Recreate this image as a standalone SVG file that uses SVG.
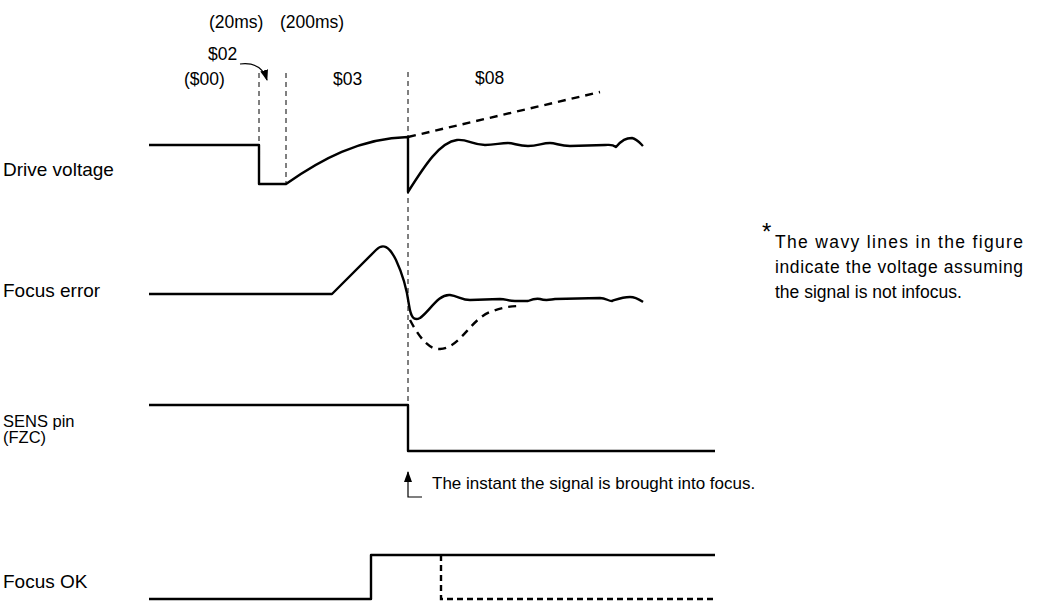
<svg xmlns="http://www.w3.org/2000/svg" width="1037" height="601" viewBox="0 0 1037 601">
<style>
  text { font-family: "Liberation Sans", Arial, sans-serif; font-size: 17.5px; fill: #000; }
  .lbl { font-size: 19px; }
  .sig { fill: none; stroke: #000; stroke-width: 2.4; stroke-linejoin: round; }
  .dsig { fill: none; stroke: #000; stroke-width: 2.4; stroke-dasharray: 8 6; }
  .grid { fill: none; stroke: #000; stroke-width: 1; stroke-dasharray: 5 4; }
  .thin { fill: none; stroke: #000; stroke-width: 1.2; }
</style>
<defs>
  <marker id="ah" markerWidth="11" markerHeight="10" refX="10" refY="5" orient="auto" markerUnits="userSpaceOnUse">
    <path d="M0,1 L11,5 L0,9 Z" fill="#000"/>
  </marker>
</defs>
<rect width="1037" height="601" fill="#fff"/>

<g id="labels">
  <text class="lbl" x="3" y="176">Drive voltage</text>
  <text class="lbl" x="3" y="297">Focus error</text>
  <text x="3" y="427" style="font-size:16.5px">SENS pin</text>
  <text x="3" y="443" style="font-size:16.5px">(FZC)</text>
  <text class="lbl" x="3" y="588">Focus OK</text>
</g>

<g id="phase-labels">
  <text x="209" y="28">(20ms)</text>
  <text x="280" y="28">(200ms)</text>
  <text x="208" y="60">$02</text>
  <text x="184" y="85">($00)</text>
  <text x="333" y="85">$03</text>
  <text x="475" y="84">$08</text>
</g>

<g id="note">
  <text x="762" y="240" style="font-size:24px">*</text>
  <text x="775" y="248" textLength="248" lengthAdjust="spacing">The wavy lines in the figure</text>
  <text x="775" y="273" textLength="248" lengthAdjust="spacing">indicate the voltage assuming</text>
  <text x="775" y="298">the signal is not infocus.</text>
  <text x="432" y="489" style="font-size:17px">The instant the signal is brought into focus.</text>
</g>

<g id="grid-lines">
  <line class="grid" x1="259" y1="73" x2="259" y2="145"/>
  <line class="grid" x1="286" y1="73" x2="286" y2="184"/>
  <line class="grid" x1="408" y1="72" x2="408" y2="405"/>
</g>

<g id="drive-voltage">
  <path class="sig" d="M149,145 H259 V184 H286 C320,160 360,138 408,137 V192 C425,165 440,142 457,140 C468,139 472,145 485,145 C495,145 500,143 508,143 C514,143 518,146 528,146 C538,146 542,143 550,143 C556,143 560,146 570,146 L605,145 C610,145 612,144 616,147 C622,140 626,138 632,138 C637,139 640,143 643,146"/>
  <path class="dsig" d="M408,137 L600,92"/>
</g>

<g id="focus-error">
  <path class="sig" d="M149,294 H332 L376,250 C383,243 389,246 396,260 C403,275 407,290 409,305 C411,318 414,321 420,318 C430,311 438,294 450,295 C458,296 462,300 470,300 L500,299 C506,299 508,301 515,301 L528,301 C533,299 536,298 540,299 C546,301 548,300 555,299 L600,298 C606,298 608,301 612,301 C618,299 622,297 630,297 C636,297 640,300 643,302"/>
  <path class="dsig" d="M410,320 C418,335 428,350 440,349 C460,348 470,320 490,312 C500,308 510,306 520,306"/>
</g>

<g id="sens-pin">
  <path class="sig" d="M149,405 H408 V451 H715"/>
</g>

<g id="focus-ok">
  <path class="sig" d="M149,599 H371 V555 H715"/>
  <path class="dsig" d="M441,555 V599 H715" style="stroke-dasharray:6 4"/>
</g>

<g id="connectors">
  <path class="thin" d="M240,64 C256,62 264,70 267,80" marker-end="url(#ah)"/>
  <path class="thin" d="M422,497 H408 V472" marker-end="url(#ah)"/>
</g>
</svg>
